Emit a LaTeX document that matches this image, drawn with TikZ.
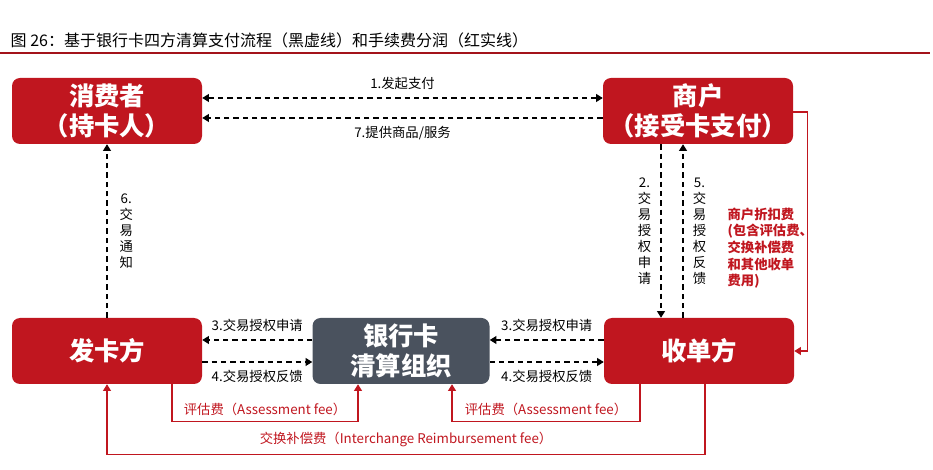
\documentclass[tikz,border=0pt]{standalone}
\usepackage{fontspec}
\setmainfont{Noto Sans CJK SC}
\usetikzlibrary{arrows.meta}
\definecolor{fred}{RGB}{192,22,31}
\definecolor{fgray}{RGB}{74,82,94}
\tikzset{
  party/.style={rounded corners=6pt,fill=fred,text=white,minimum width=190\unit,minimum height=66\unit,align=center,font=\fontsize{19}{23}\selectfont\bfseries},
  flow/.style={dash pattern=on 4pt off 3pt,thick,-{Triangle[length=5pt,width=6pt]}},
  fee/.style={fred,thick,-{Triangle[length=5pt,width=6pt]}},
  lbl/.style={font=\fontsize{10}{12}\selectfont,inner sep=1pt},
  vlbl/.style={font=\fontsize{10}{12}\selectfont,align=center,inner sep=1pt},
}
\newlength{\unit}\setlength{\unit}{0.75pt}
\begin{document}
\begin{tikzpicture}[x=0.75pt,y=0.75pt,yscale=-1]
\useasboundingbox (0,0) rectangle (933,470);

% title
\node[anchor=west,font=\fontsize{12}{14}\selectfont] (title) at (6,40) {图 26：基于银行卡四方清算支付流程（黑虚线）和手续费分润（红实线）};
\draw[fred!85!black,thick] (0,53) -- (930,53);

% boxes
\node[party] (cons) at (107,111) {消费者\\（持卡人）};
\node[party] (merc) at (698,111) {商户\\（接受卡支付）};
\node[party] (iss) at (107,351) {发卡方};
\node[party,fill=fgray,minimum width=177\unit] (clr) at (401,351) {银行卡\\清算组织};
\node[party] (acq) at (699,351) {收单方};

% dashed flows
\draw[flow,{Triangle[length=5pt,width=6pt]}-{Triangle[length=5pt,width=6pt]}] ([yshift=-13\unit]cons.east) -- node[lbl,above=5pt]{1.发起支付} ([yshift=-13\unit]merc.west);
\draw[flow] ([yshift=7\unit]merc.west) -- node[lbl,below=5pt]{7.提供商品/服务} ([yshift=7\unit]cons.west -| cons.east);
\draw[flow] (iss.north) -- node[vlbl,right=8pt]{6.\\交\\易\\通\\知} (cons.south);
\draw[flow] ([xshift=-37\unit]merc.south) -- node[vlbl,left=6pt]{2.\\交\\易\\授\\权\\申\\请} ([xshift=-38\unit]acq.north);
\draw[flow] ([xshift=-16\unit]acq.north) -- node[vlbl,right=6pt]{5.\\交\\易\\授\\权\\反\\馈} ([xshift=-15\unit]merc.south);
\draw[flow] ([yshift=-11\unit]clr.west) -- node[lbl,above=5pt]{3.交易授权申请} ([yshift=-11\unit]iss.east);
\draw[flow] ([yshift=-11\unit]acq.west) -- node[lbl,above=5pt]{3.交易授权申请} ([yshift=-11\unit]clr.east);
\draw[flow] ([yshift=11\unit]iss.east) -- node[lbl,below=5pt]{4.交易授权反馈} ([yshift=11\unit]clr.west);
\draw[flow] ([yshift=11\unit]clr.east) -- node[lbl,below=5pt]{4.交易授权反馈} ([yshift=11\unit]acq.west);

% fee flows
\draw[fee] ([yshift=1\unit]merc.east) -- ++(14,0) |- (acq.east);
\node[lbl,text=fred,align=left,anchor=north west,font=\fontsize{10}{12.5}\selectfont\bfseries] (mdr) at (726,206) {商户折扣费\\(包含评估费、\\交换补偿费\\和其他收单\\费用)};
\draw[fee] ([xshift=65\unit]iss.south) -- ++(0,37) -| node[lbl,text=fred,pos=0.25,above=3pt]{评估费（Assessment fee）} ([xshift=-43\unit]clr.south);
\draw[fee] ([xshift=-59\unit]acq.south) -- ++(0,37) -| node[lbl,text=fred,pos=0.25,above=3pt]{评估费（Assessment fee）} ([xshift=51\unit]clr.south);
\draw[fee] ([xshift=6\unit]acq.south) -- ++(0,70) -| node[lbl,text=fred,pos=0.25,above=4pt]{交换补偿费（Interchange Reimbursement fee）} (iss.south);
\end{tikzpicture}
\end{document}
